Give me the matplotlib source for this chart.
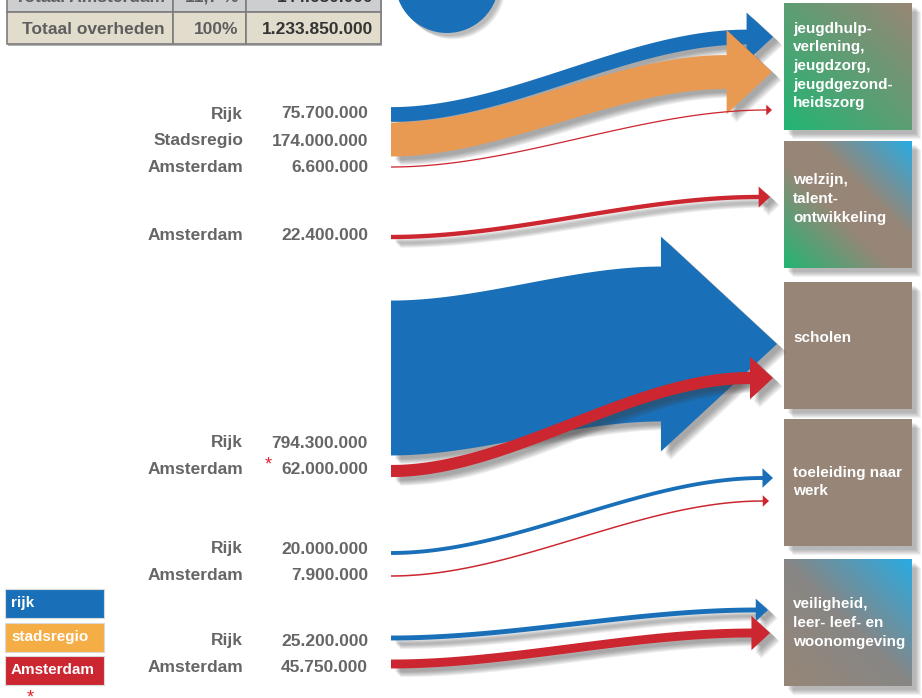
import numpy as np
import matplotlib
matplotlib.use('Agg')
import matplotlib.pyplot as plt
from matplotlib.patches import Polygon, Rectangle, Circle
from matplotlib.colors import to_rgb

plt.rcParams['font.family'] = ['Liberation Sans', 'DejaVu Sans']

# ---- data (bedragen in miljoen euro)
sources = ['Rijk', 'Stadsregio', 'Amsterdam', 'Amsterdam', 'Rijk',
           'Amsterdam', 'Rijk', 'Amsterdam', 'Rijk', 'Amsterdam']
values = [75.7, 174.0, 6.6, 22.4, 794.3, 62.0, 20.0, 7.9, 25.2, 45.75]
targets = [0, 0, 0, 1, 2, 2, 3, 3, 4, 4]
starred = [False, False, False, False, False, True, False, False, False, False]
target_names = ['jeugdhulp-\nverlening,\njeugdzorg,\njeugdgezond-\nheidszorg',
                'welzijn,\ntalent-\nontwikkeling',
                'scholen',
                'toeleiding naar\nwerk',
                'veiligheid,\nleer- leef- en\nwoonomgeving']
legend_names = ['rijk', 'stadsregio', 'Amsterdam']

# ---- layout (pixels)
label_y = [114, 141, 168, 235, 443, 470, 549, 576, 641, 668]
start_y = [114.5, 139.5, 167, 237, 378, 471, 553, 576, 638, 664]
tip_x = [773, 772, 772, 770, 777, 773, 773, 769, 768, 770]
tip_y = [37, 72, 110, 197, 344, 378, 478, 501, 610, 633]
box_top = [3, 141, 282, 419, 559]
box_h = 127
box_x0, box_x1 = 784, 912
text_y = [66, 199, 338, 482, 623]
PX_PER_MLN = 0.195
X0 = 391

flow_col = {'Rijk': '#1a70b8', 'Stadsregio': '#e99a52', 'Amsterdam': '#cc2630'}
legend_col = ['#1a70b8', '#f5ae45', '#cc2630']
taupe = '#978677'
green = '#22b573'
lblue = '#29abe2'
box_stops = [[(0, green), (1, '#998675')],
             [(0, green), (0.42, taupe), (0.62, taupe), (1, lblue)],
             [(0, taupe), (1, taupe)],
             [(0, taupe), (1, taupe)],
             [(0, taupe), (0.5, '#878685'), (1, lblue)]]


def fmt(v):
    return f"{round(v * 1e6):,}".replace(',', '.')


def flow_shape(x0, y0, xt, yt, w):
    hh = w / 2 + 3 + 27 * (1 - np.exp(-w / 20))
    xb = xt - 1.08 * hh
    xs = np.linspace(x0, xb, 100)
    t = (xs - x0) / (xb - x0)
    yc = y0 + (yt - y0) * (3 * t ** 2 - 2 * t ** 3)
    upper = np.column_stack([xs, yc - w / 2])
    lower = np.column_stack([xs[::-1], yc[::-1] + w / 2])
    head = np.array([[xb, yt - hh], [xt, yt], [xb, yt + hh]])
    return np.vstack([upper, head, lower])


def shadow(ax, pts, z, dx=7, dy=6):
    for k in range(6):
        s = pts + np.array([dx - 2.5 + k, dy - 2.5 + k])
        ax.add_patch(Polygon(s, closed=True, fc='#3a3a3a', ec='none',
                             alpha=0.09, zorder=z))


fig = plt.figure(figsize=(9.22, 6.98), dpi=100)
ax = fig.add_axes([0, 0, 1, 1])
ax.axis('off')

# ---- table at the top (first row is cut by the top edge, as in the original)
ams_total = sum(v for s, v in zip(sources, values) if s == 'Amsterdam')
grand_total = sum(values)
pct = f"{ams_total / grand_total * 100:.1f}".replace('.', ',') + ' %'
table_rows = [['Totaal Amsterdam', pct, fmt(ams_total)],
              ['Totaal overheden', '100%', fmt(grand_total)]]
col_x = [7, 173, 246, 381]
row_y = [-20, 12, 44]
row_bg = ['#cdcecf', '#e1dccb']
ax.add_patch(Rectangle((col_x[0] + 1, row_y[0]), col_x[-1] - col_x[0],
                       row_y[-1] - row_y[0] + 2, fc='#b5b5b5', ec='none', zorder=1))
for r, row in enumerate(table_rows):
    for c, txt in enumerate(row):
        ax.add_patch(Rectangle((col_x[c], row_y[r]), col_x[c + 1] - col_x[c],
                               row_y[r + 1] - row_y[r], fc=row_bg[r],
                               ec='#7d7d7d', lw=1.2, zorder=2))
        ax.text(col_x[c + 1] - 8, (row_y[r] + row_y[r + 1]) / 2 + 1, txt,
                ha='right', va='center', fontsize=12.5, fontweight='bold',
                color='#333333' if c == 2 else '#5e5e5e', zorder=3)

# circle at the top
for k in range(5):
    ax.add_patch(Circle((450 + k * 0.8, -16 + k * 0.8), 52, fc='#3a3a3a',
                        ec='none', alpha=0.08, zorder=2))
ax.add_patch(Circle((447, -19), 52, fc='#1a70b8', ec='none', zorder=3))

# ---- target boxes
for i, name in enumerate(target_names):
    y0 = box_top[i]
    for k in range(6):
        ax.add_patch(Rectangle((box_x0 + 4 + k, y0 + 4 + k), box_x1 - box_x0,
                               box_h, fc='#3a3a3a', ec='none', alpha=0.07, zorder=1))
    n = 120
    u = np.linspace(0, 1, n)
    uu, vv = np.meshgrid(u, u)
    p = (uu + (1 - vv)) / 2
    pos = [s[0] for s in box_stops[i]]
    cols = np.array([to_rgb(s[1]) for s in box_stops[i]])
    img = np.dstack([np.interp(p, pos, cols[:, j]) for j in range(3)])
    ax.imshow(img, extent=(box_x0, box_x1, y0 + box_h, y0), origin='upper',
              aspect='auto', zorder=2, interpolation='bilinear')
    ax.text(box_x0 + 9, text_y[i], name, ha='left', va='center', fontsize=11,
            fontweight='bold', color='white', linespacing=1.41, zorder=3)

# ---- flows
for i, (src, v) in enumerate(zip(sources, values)):
    w = max(v * PX_PER_MLN, 1.2)
    pts = flow_shape(X0, start_y[i], tip_x[i], tip_y[i], w)
    z = 4 + i * 2
    if v >= 22:
        shadow(ax, pts, z)
    ax.add_patch(Polygon(pts, closed=True, fc=flow_col[src], ec='none', zorder=z + 1))

# ---- labels on the left
for i, (src, v) in enumerate(zip(sources, values)):
    ax.text(243, label_y[i], src, ha='right', va='center', fontsize=12.5,
            fontweight='bold', color='#666666')
    ax.text(368, label_y[i], fmt(v), ha='right', va='center', fontsize=12.5,
            fontweight='bold', color='#666666')
    if starred[i]:
        ax.text(268, label_y[i] - 5, '*', ha='center', va='center', fontsize=13,
                color='#e8202a')

# ---- legend
leg_y = [589, 623, 656]
for name, col, y in zip(legend_names, legend_col, leg_y):
    ax.add_patch(Rectangle((5, y), 99, 29, fc=col, ec='#d9d9d9', lw=0.8, zorder=2))
    ax.text(11, y + 13.5, name, ha='left', va='center', fontsize=11,
            fontweight='bold', color='white', zorder=3)
ax.text(30, 698, '*', ha='center', va='center', fontsize=13, color='#e8202a')

ax.set_xlim(0, 922)
ax.set_ylim(698, 0)

plt.savefig('out.png', dpi=100)
